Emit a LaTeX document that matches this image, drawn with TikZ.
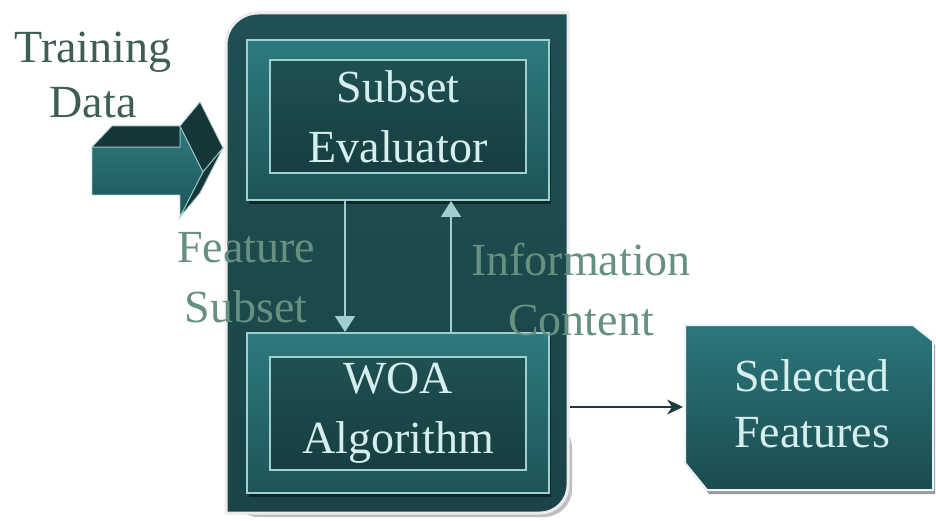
\documentclass[tikz,border=0pt]{standalone}
\usepackage{fontspec}
\setmainfont{Liberation Serif}
\usetikzlibrary{arrows.meta,shadows}
\definecolor{panelTop}{HTML}{1F5053}
\definecolor{panelBot}{HTML}{1A4446}
\definecolor{outerTop}{HTML}{2D7A7E}
\definecolor{outerBot}{HTML}{1E5457}
\definecolor{innerTop}{HTML}{1E5052}
\definecolor{innerBot}{HTML}{173E40}
\definecolor{lightLine}{HTML}{9FCFCF}
\definecolor{boxText}{HTML}{D6EEEE}
\definecolor{labelText}{HTML}{66907F}
\definecolor{trainText}{HTML}{3E5E52}
\definecolor{selTop}{HTML}{2B777C}
\definecolor{selBot}{HTML}{1B4B4E}
\definecolor{darkFace}{HTML}{173638}
\definecolor{outArrow}{HTML}{1D3B3C}
\tikzset{
  bigfont/.style={font=\fontsize{46}{60}\selectfont},
  outerbox/.style={draw=lightLine, line width=2pt, top color=outerTop, bottom color=outerBot,
    minimum width=302pt, minimum height=160pt, inner sep=0pt,
    drop shadow={shadow xshift=2pt, shadow yshift=-4pt, opacity=0.45, fill=black}},
  innerbox/.style={draw=lightLine, line width=2pt, top color=innerTop, bottom color=innerBot,
    minimum width=256pt, minimum height=113pt, inner sep=0pt, align=center,
    text=boxText, bigfont},
  flow/.style={draw=lightLine, line width=1.6pt, -{Triangle[width=20pt,length=16pt]}},
  lbl/.style={align=center, text=labelText, bigfont},
}
\begin{document}
\begin{tikzpicture}[x=1pt,y=-1pt]
\useasboundingbox (0,0) rectangle (936,521);
\fill[white] (0,0) rectangle (936,521);

% Training data block arrow
\shade[top color=outerTop, bottom color=outerBot, draw=lightLine, line width=0.8pt]
  (92,147) -- (180,147) -- (180,126) -- (203,172) -- (180,217) -- (180,195) -- (92,195) -- cycle;
\fill[darkFace, draw=lightLine, line width=0.8pt] (92,147) -- (112,126) -- (180,126) -- (180,147) -- cycle;
\fill[darkFace, draw=lightLine, line width=0.8pt] (180,126) -- (200,102) -- (223,148) -- (203,172) -- cycle;
\fill[darkFace, draw=lightLine, line width=0.8pt] (203,172) -- (223,148) -- (200,193) -- (180,217) -- cycle;
\node[align=center, text=trainText, font=\fontsize{46}{55}\selectfont] (train) at (93,75) {Training\\Data};

% Main panel
\fill[black, opacity=0.25] (230,420) [rounded corners=28pt] -- (230,517) -- (572,517) -- (572,420) -- cycle;
\shade[top color=panelTop, bottom color=panelBot, draw=white!85!gray, line width=3pt]
  (226,300) [rounded corners=32pt] -- (226,13) -- (400,13) [sharp corners] -- (568,13) -- (568,300)
  [rounded corners=28pt] -- (568,513) -- (400,513) [sharp corners] -- (226,513) -- cycle;
\coordinate (panelOut) at (570,407);

% Boxes
\node[outerbox] (evalOuter) at (398,120) {};
\node[innerbox] (eval) at (398,117) {Subset\\Evaluator};
\node[outerbox] (woaOuter) at (398,413) {};
\node[innerbox] (woa) at (398,413.5) {WOA\\Algorithm};

% Flows
\draw[flow] ([xshift=-53pt]evalOuter.south) -- ([xshift=-53pt]woaOuter.north);
\draw[flow] ([xshift=53pt]woaOuter.north) -- ([xshift=53pt]evalOuter.south);

\node[lbl] (fs) at (246,278) {Feature\\Subset};
\node[lbl] (ic) at (581,290) {Information\\Content};

% Selected features
\shade[top color=selTop, bottom color=selBot, draw=white!80!lightLine, line width=2pt,
  drop shadow={shadow xshift=2pt, shadow yshift=-4pt, opacity=0.4, fill=black}]
  (685,325) -- (913,325) -- (933,341) -- (933,490) -- (707,490) -- (685,463) -- cycle;
\coordinate (selIn) at (683,407);
\node[align=center, text=boxText, font=\fontsize{46}{56}\selectfont] (sel) at (812,404) {Selected\\Features};

\draw[outArrow, line width=1.5pt, -{Stealth[width=15pt,length=16pt]}] (panelOut) -- (selIn);
\end{tikzpicture}
\end{document}
